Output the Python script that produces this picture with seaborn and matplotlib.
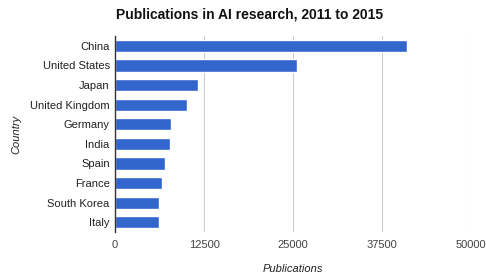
import matplotlib
matplotlib.use('Agg')
import matplotlib.pyplot as plt
import seaborn as sns
import pandas as pd

countries = ['China', 'United States', 'Japan', 'United Kingdom', 'Germany',
             'India', 'Spain', 'France', 'South Korea', 'Italy']
publications = [41000, 25500, 11600, 10100, 7900, 7650, 6950, 6550, 6150, 6150]
ticks = [0, 12500, 25000, 37500, 50000]

sns.set_style('white')
plt.rcParams['font.family'] = ['Liberation Sans', 'DejaVu Sans']

data = pd.DataFrame({'Country': countries, 'Publications': publications})

fig = plt.figure(figsize=(4.86, 2.77), dpi=100)
ax = fig.add_axes([0.237, 0.162, 0.732, 0.708])

sns.barplot(data=data, x='Publications', y='Country', color='#3366cc',
            saturation=1, width=0.62, ax=ax)

ax.set_xlim(0, 50000)
ax.set_xticks(ticks)
ax.set_xticklabels([str(t) for t in ticks])
ax.grid(axis='x', color='#cccccc', linewidth=0.8)
ax.set_axisbelow(True)
for s in ['top', 'right', 'bottom']:
    ax.spines[s].set_visible(False)
ax.spines['left'].set_color('#333333')
ax.spines['left'].set_linewidth(1.0)
ax.tick_params(axis='both', length=0, labelsize=8, colors='#222222')
ax.tick_params(axis='x', pad=6, labelcolor='#444444')
ax.tick_params(axis='y', pad=4)

ax.set_xlabel('Publications', fontsize=8, style='italic', color='#222222', labelpad=10)
ax.set_ylabel('Country', fontsize=8, style='italic', color='#222222', labelpad=6)
fig.text(0.514, 0.946, 'Publications in AI research, 2011 to 2015', fontsize=10,
         fontweight='bold', color='#111111', ha='center', va='center')

fig.savefig('out.png', dpi=100)
